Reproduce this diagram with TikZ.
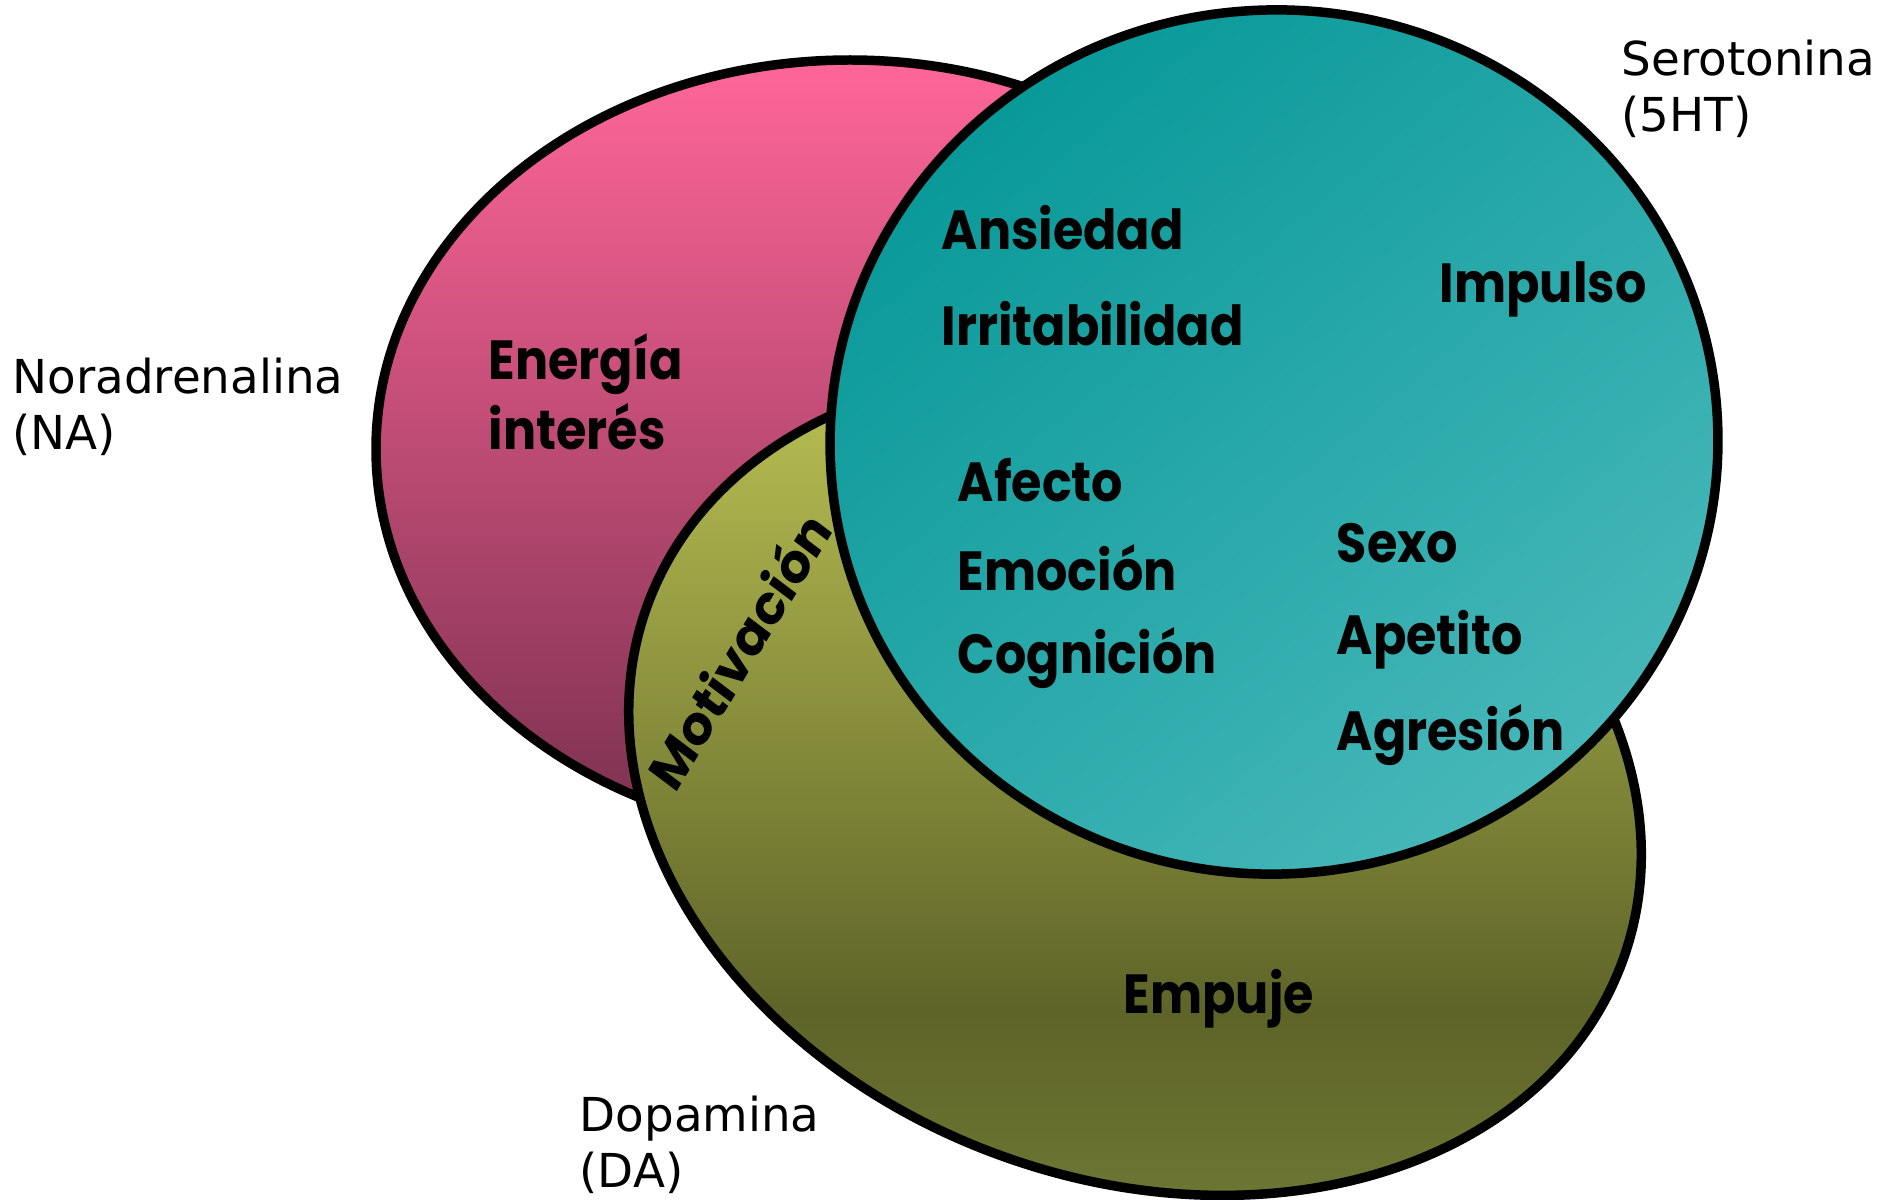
\documentclass[tikz,border=0pt]{standalone}
\usepackage{fontspec}
\usepackage{tikz}
\usetikzlibrary{positioning}
\newfontfamily\labelfont{DejaVu Sans}
\newfontfamily\chunky{Poppins}
\definecolor{natop}{RGB}{255,102,153}
\definecolor{nabot}{RGB}{122,48,78}
\definecolor{datop}{RGB}{194,201,87}
\definecolor{dadark}{RGB}{94,100,40}
\definecolor{dabot}{RGB}{110,120,52}
\definecolor{httop}{RGB}{8,152,152}
\definecolor{htbot}{RGB}{72,184,186}
\pgfdeclareverticalshading{dagrad}{100bp}{color(0bp)=(dabot); color(22bp)=(dabot); color(34bp)=(dadark); color(75bp)=(datop); color(100bp)=(datop)}

\begin{document}
\begin{tikzpicture}[x=0.01cm,y=0.01cm,
    blob/.style={draw=black,line width=2.7pt},
    word/.style={font=\chunky\bfseries\fontsize{14}{17}\selectfont,anchor=west,inner sep=0pt,yscale=1.12},
    tag/.style={font=\labelfont\fontsize{13.3}{16}\selectfont,align=left,anchor=west,inner sep=0pt}]
    \useasboundingbox (0,0) rectangle (1904,1199);
    % three overlapping sets
    \path[blob,top color=natop,bottom color=nabot] (850,750) ellipse [x radius=474,y radius=389];
    \path[blob,shading=dagrad] (1135,416) ellipse [x radius=519,y radius=396,rotate=-20];
    \path[blob,top color=httop,bottom color=htbot,shading angle=40] (1274,757) ellipse [x radius=444,y radius=432,rotate=5];
    % set names
    \node[tag] (na) at (12,792) {Noradrenalina\\(NA)};
    \node[tag] (ht) at (1621,1110) {Serotonina\\(5HT)};
    \node[tag] (da) at (579,54) {Dopamina\\(DA)};
    % functions
    \node[word] (energia) at (488,835) {Energía};
    \node[word] (interes) at (488,772) {interés};
    \node[word] (ansiedad) at (941,971) {Ansiedad};
    \node[word] (irrit) at (941,875) {Irritabilidad};
    \node[word] (impulso) at (1439,910) {Impulso};
    \node[word] (afecto) at (957,719) {Afecto};
    \node[word] (emocion) at (957,631) {Emoción};
    \node[word] (cognicion) at (957,541) {Cognición};
    \node[word] (sexo) at (1336,656) {Sexo};
    \node[word] (apetito) at (1336,559) {Apetito};
    \node[word] (agresion) at (1336,464) {Agresión};
    \node[word] (empuje) at (1123,200) {Empuje};
    \node[word,anchor=center,rotate=56] (motiv) at (738,549) {Motivación};
\end{tikzpicture}
\end{document}
